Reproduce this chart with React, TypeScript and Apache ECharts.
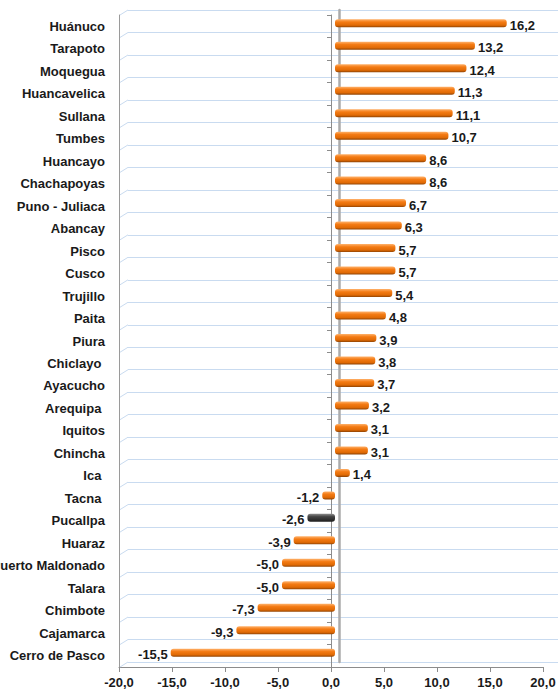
import React, { useEffect, useRef } from "react";
import * as echarts from "echarts";

const categories = [
  "Huánuco", "Tarapoto", "Moquegua", "Huancavelica", "Sullana", "Tumbes", "Huancayo",
  "Chachapoyas", "Puno - Juliaca", "Abancay", "Pisco", "Cusco", "Trujillo", "Paita",
  "Piura", "Chiclayo ", "Ayacucho", "Arequipa ", "Iquitos", "Chincha", "Ica ", "Tacna ",
  "Pucallpa", "Huaraz", "Puerto Maldonado", "Talara", "Chimbote", "Cajamarca", "Cerro de Pasco",
];
const values = [
  16.2, 13.2, 12.4, 11.3, 11.1, 10.7, 8.6, 8.6, 6.7, 6.3, 5.7, 5.7, 5.4, 4.8, 3.9, 3.8,
  3.7, 3.2, 3.1, 3.1, 1.4, -1.2, -2.6, -3.9, -5.0, -5.0, -7.3, -9.3, -15.5,
];
const highlighted = ["Pucallpa"];
const xTicks = { min: -20, max: 20, interval: 5 };

const fmt = (v: number) => v.toFixed(1).replace(".", ",");

const orangeGrad = new echarts.graphic.LinearGradient(0, 0, 0, 1, [
  { offset: 0, color: "#ffb26b" },
  { offset: 0.35, color: "#f47b14" },
  { offset: 0.75, color: "#e06a05" },
  { offset: 1, color: "#8f4304" },
]);
const darkGrad = new echarts.graphic.LinearGradient(0, 0, 0, 1, [
  { offset: 0, color: "#8a8a8a" },
  { offset: 0.35, color: "#444444" },
  { offset: 1, color: "#1e1e1e" },
]);

export default function App() {
  const ref = useRef<HTMLDivElement>(null);
  useEffect(() => {
    if (!ref.current) return;
    const chart = echarts.init(ref.current, null, { renderer: "svg" });
    const font = "'Liberation Sans', Arial, sans-serif";
    const n = categories.length;
    chart.setOption({
      animation: false,
      grid: [
        { left: 119, right: 15, top: 15, bottom: 27, outerBoundsMode: "none", containLabel: false },
        { left: 123, right: 11, top: 12, bottom: 30, outerBoundsMode: "none", containLabel: false },
        { left: 128, right: 0, top: 10, bottom: 32, outerBoundsMode: "none", containLabel: false },
      ],
      xAxis: [
        {
          gridIndex: 0, type: "value", min: xTicks.min, max: xTicks.max, interval: xTicks.interval,
          axisLine: { show: true, onZero: false, lineStyle: { color: "#8c8c8c" } },
          axisTick: { show: true, length: 5, lineStyle: { color: "#8c8c8c" } },
          splitLine: { show: false },
          axisLabel: {
            formatter: (v: number) => fmt(v), fontFamily: font, fontWeight: "bold",
            fontSize: 13, color: "#1a1a1a", margin: 9,
          },
        },
        {
          gridIndex: 1, type: "value", min: xTicks.min, max: xTicks.max, show: false,
        },
        {
          gridIndex: 2, type: "value", min: xTicks.min, max: 20.8, show: false,
        },
      ],
      yAxis: [
        {
          gridIndex: 0, type: "category", data: categories, inverse: true, position: "left",
          axisLine: { show: true, onZero: false, lineStyle: { color: "#9a9a9a" } },
          axisTick: { show: false },
          splitLine: { show: false },
          axisLabel: {
            fontFamily: font, fontWeight: "bold", fontSize: 13, color: "#1a1a1a", margin: 14,
          },
        },
        {
          gridIndex: 0, type: "category", data: categories, inverse: true, position: "right",
          axisLine: { show: true, onZero: true, lineStyle: { color: "#8c8c8c" } },
          axisTick: { show: true, inside: true, length: 4, lineStyle: { color: "#8c8c8c" } },
          axisLabel: { show: false },
          splitLine: { show: false },
        },
        {
          gridIndex: 1, type: "category", data: categories, inverse: true, show: false,
        },
        {
          gridIndex: 2, type: "category", data: categories, inverse: true,
          axisLine: { show: true, onZero: true, lineStyle: { color: "#ababab", width: 2.5 } },
          axisTick: { show: false },
          axisLabel: { show: false },
          splitLine: { show: true, lineStyle: { color: "#c9dbf0", width: 1 } },
        },
      ],
      series: [
        {
          type: "custom",
          xAxisIndex: 2,
          yAxisIndex: 3,
          clip: false,
          silent: true,
          data: categories.map((_, i) => [xTicks.min, i]),
          encode: { x: 0, y: 1 },
          renderItem: (params: any, api: any) => {
            const i = api.value(1);
            const p = api.coord([xTicks.min, i]);
            const band = api.size([0, 1])[1];
            const children: any[] = [];
            const ys = [p[1] - band / 2];
            if (i === n - 1) ys.push(p[1] + band / 2);
            ys.forEach((yb: number) => {
              children.push({
                type: "line",
                shape: { x1: p[0], y1: yb, x2: p[0] - 8, y2: yb + 5 },
                style: { stroke: "#c9dbf0", lineWidth: 1 },
              });
            });
            return { type: "group", children };
          },
        },
        {
          type: "bar",
          xAxisIndex: 1,
          yAxisIndex: 2,
          barWidth: 8,
          data: values.map((v, i) => ({
            value: v,
            itemStyle: {
              color: highlighted.includes(categories[i]) ? darkGrad : orangeGrad,
              borderRadius: 3,
            },
            label: { position: v >= 0 ? "right" : "left" },
          })),
          label: {
            show: true,
            formatter: (p: any) => fmt(p.value),
            fontFamily: font, fontWeight: "bold", fontSize: 13, color: "#1a1a1a",
            distance: 3, offset: [0, 2],
          },
        },
      ],
    });
    return () => chart.dispose();
  }, []);
  return <div ref={ref} style={{ width: 558, height: 694, position: "absolute", left: 0, top: 0 }} />;
}
